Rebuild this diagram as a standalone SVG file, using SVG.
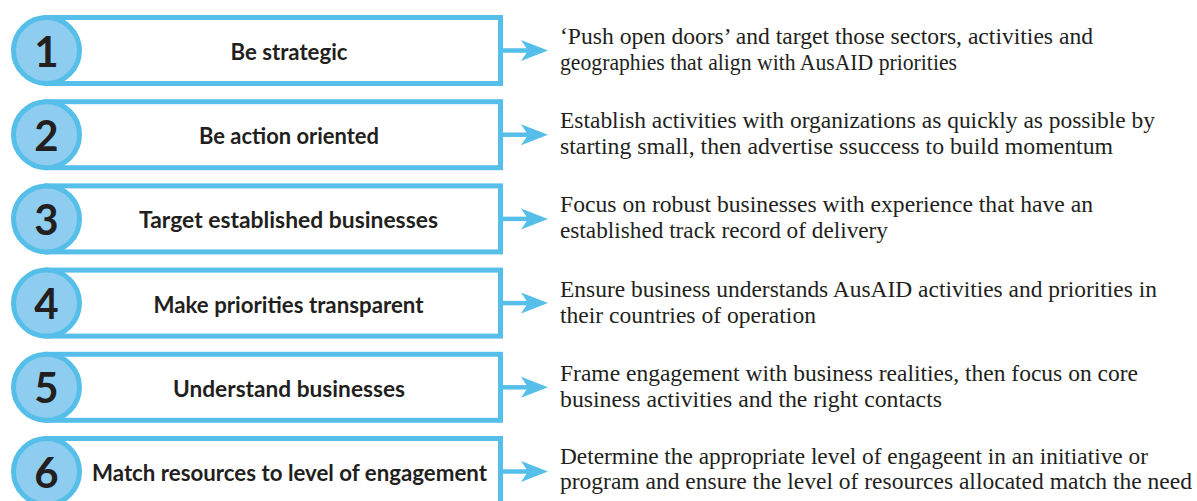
<svg xmlns="http://www.w3.org/2000/svg" width="1197" height="501" viewBox="0 0 1197 501">
<defs>
<style>
.box{fill:#ffffff;stroke:#56bfe9;stroke-width:5}
.circ{fill:#8ecdef;stroke:#56bfe9;stroke-width:5}
.num{font-family:Lato,"Open Sans",sans-serif;font-weight:bold;font-size:42px;fill:#231f20;text-anchor:middle}
.lbl{font-family:Lato,"Open Sans",sans-serif;font-weight:bold;font-size:22px;fill:#231f20;text-anchor:middle}
.desc{font-family:"Liberation Serif","Times New Roman",serif;font-size:24px;fill:#231f20}
.conn{stroke:#56bfe9;stroke-width:4.5;fill:none}
.head{fill:#56bfe9}
</style>
</defs>
<rect width="1197" height="501" fill="#ffffff"/>
<g id="node1">
<rect class="box" x="46" y="17.5" width="454.5" height="66"/>
<circle class="circ" cx="46.5" cy="50.5" r="33"/>
<text class="num" x="46.5" y="66.5">1</text>
<text class="lbl" x="289" y="60" textLength="117" lengthAdjust="spacingAndGlyphs">Be strategic</text>
<text class="desc" x="560" y="44" textLength="533" lengthAdjust="spacingAndGlyphs">‘Push open doors’ and target those sectors, activities and</text>
<text class="desc" x="560" y="70" textLength="397" lengthAdjust="spacingAndGlyphs">geographies that align with AusAID priorities</text>
</g>
<g id="node2">
<rect class="box" x="46" y="101.7" width="454.5" height="66"/>
<circle class="circ" cx="46.5" cy="134.7" r="33"/>
<text class="num" x="46.5" y="150.7">2</text>
<text class="lbl" x="289" y="144.2" textLength="180" lengthAdjust="spacingAndGlyphs">Be action oriented</text>
<text class="desc" x="560" y="128" textLength="595" lengthAdjust="spacingAndGlyphs">Establish activities with organizations as quickly as possible by</text>
<text class="desc" x="560" y="154" textLength="553" lengthAdjust="spacingAndGlyphs">starting small, then advertise ssuccess to build momentum</text>
</g>
<g id="node3">
<rect class="box" x="46" y="185.9" width="454.5" height="66"/>
<circle class="circ" cx="46.5" cy="218.9" r="33"/>
<text class="num" x="46.5" y="234.9">3</text>
<text class="lbl" x="288.5" y="228.4" textLength="299" lengthAdjust="spacingAndGlyphs">Target established businesses</text>
<text class="desc" x="560" y="212" textLength="533" lengthAdjust="spacingAndGlyphs">Focus on robust businesses with experience that have an</text>
<text class="desc" x="560" y="238" textLength="328" lengthAdjust="spacingAndGlyphs">established track record of delivery</text>
</g>
<g id="node4">
<rect class="box" x="46" y="270.1" width="454.5" height="66"/>
<circle class="circ" cx="46.5" cy="303.1" r="33"/>
<text class="num" x="46.5" y="319.1">4</text>
<text class="lbl" x="288.5" y="312.6" textLength="270" lengthAdjust="spacingAndGlyphs">Make priorities transparent</text>
<text class="desc" x="560" y="296.5" textLength="597" lengthAdjust="spacingAndGlyphs">Ensure business understands AusAID activities and priorities in</text>
<text class="desc" x="560" y="322.5" textLength="256" lengthAdjust="spacingAndGlyphs">their countries of operation</text>
</g>
<g id="node5">
<rect class="box" x="46" y="354.3" width="454.5" height="66"/>
<circle class="circ" cx="46.5" cy="387.3" r="33"/>
<text class="num" x="46.5" y="403.3">5</text>
<text class="lbl" x="289" y="396.8" textLength="232" lengthAdjust="spacingAndGlyphs">Understand businesses</text>
<text class="desc" x="560" y="381" textLength="578" lengthAdjust="spacingAndGlyphs">Frame engagement with business realities, then focus on core</text>
<text class="desc" x="560" y="407" textLength="382" lengthAdjust="spacingAndGlyphs">business activities and the right contacts</text>
</g>
<g id="node6">
<rect class="box" x="46" y="438.5" width="454.5" height="66"/>
<circle class="circ" cx="46.5" cy="471.5" r="33"/>
<text class="num" x="46.5" y="487.5">6</text>
<text class="lbl" x="289.5" y="481" textLength="395" lengthAdjust="spacingAndGlyphs">Match resources to level of engagement</text>
<text class="desc" x="560" y="463.5" textLength="588" lengthAdjust="spacingAndGlyphs">Determine the appropriate level of engageent in an initiative or</text>
<text class="desc" x="560" y="488.5" textLength="632" lengthAdjust="spacingAndGlyphs">program and ensure the level of resources allocated match the need</text>
</g>
<g id="connectors">
<line class="conn" x1="500.5" y1="50.5" x2="530" y2="50.5"/>
<polygon class="head" points="548,50.5 521,40 528,50.5 521,61"/>
<line class="conn" x1="500.5" y1="134.7" x2="530" y2="134.7"/>
<polygon class="head" points="548,134.7 521,124.2 528,134.7 521,145.2"/>
<line class="conn" x1="500.5" y1="218.9" x2="530" y2="218.9"/>
<polygon class="head" points="548,218.9 521,208.4 528,218.9 521,229.4"/>
<line class="conn" x1="500.5" y1="303.1" x2="530" y2="303.1"/>
<polygon class="head" points="548,303.1 521,292.6 528,303.1 521,313.6"/>
<line class="conn" x1="500.5" y1="387.3" x2="530" y2="387.3"/>
<polygon class="head" points="548,387.3 521,376.8 528,387.3 521,397.8"/>
<line class="conn" x1="500.5" y1="471.5" x2="530" y2="471.5"/>
<polygon class="head" points="548,471.5 521,461 528,471.5 521,482"/>
</g>
</svg>
